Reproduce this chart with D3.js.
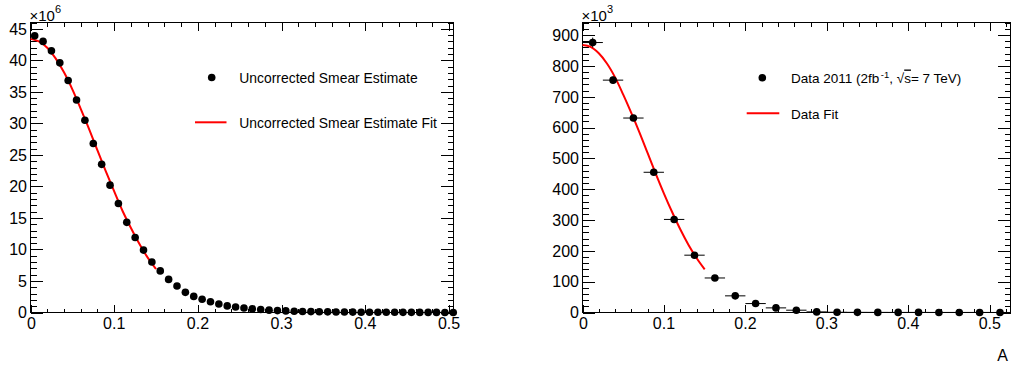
<!DOCTYPE html>
<html><head><meta charset="utf-8">
<script src="https://cdn.jsdelivr.net/npm/d3@7"></script>
<style>
html,body{margin:0;padding:0;background:#fff;}
svg{display:block;font-family:"Liberation Sans",Arial,Helvetica,sans-serif;}
</style></head>
<body>
<svg id="c" width="1014" height="367"></svg>
<script>
// ---------------- DATA ----------------
// Left panel: Uncorrected Smear Estimate (x10^6), bin centres of width 0.01
const leftX = [0.005,0.015,0.025,0.035,0.045,0.055,0.065,0.075,0.085,0.095,
  0.105,0.115,0.125,0.135,0.145,0.155,0.165,0.175,0.185,0.195,
  0.205,0.215,0.225,0.235,0.245,0.255,0.265,0.275,0.285,0.295,
  0.305,0.315,0.325,0.335,0.345,0.355,0.365,0.375,0.385,0.395,
  0.405,0.415,0.425,0.435,0.445,0.455,0.465,0.475,0.485,0.495,0.505];
const leftY = [43.9,43.0,41.5,39.6,36.8,33.7,30.5,26.8,23.5,20.2,
  17.3,14.3,11.9,9.9,8.0,6.6,5.25,4.2,3.2,2.55,
  2.1,1.7,1.35,1.05,0.87,0.72,0.57,0.47,0.37,0.3,
  0.25,0.2,0.17,0.14,0.12,0.1,0.085,0.07,0.06,0.05,
  0.045,0.04,0.035,0.03,0.025,0.02,0.018,0.015,0.012,0.01,0.008];
const leftFitX = [0,0.01,0.02,0.03,0.04,0.05,0.06,0.07,0.08,0.09,0.10,0.11,0.12,0.13,0.14,0.15];
const leftFitY = [43.4,43.0,42.0,40.3,38.1,35.4,32.3,29.1,25.7,22.4,19.2,16.1,13.4,10.9,8.7,6.9];
const leftLegend = ["Uncorrected Smear Estimate","Uncorrected Smear Estimate Fit"];
const leftYTicks = [0,5,10,15,20,25,30,35,40,45];

// Right panel: Data 2011 (x10^3), bin centres of width 0.025
const rightX = [0.0125,0.0375,0.0625,0.0875,0.1125,0.1375,0.1625,0.1875,0.2125,0.2375,
  0.2625,0.2875,0.3125,0.3375,0.3625,0.3875,0.4125,0.4375,0.4625,0.4875,0.5125];
const rightY = [876,754,631,455,302,186,112,54,29,15,
  7.5,2,0.8,0.5,0.4,0.3,0.3,0.2,0.2,0.2,0.1];
const rightYErr = [16,12,10,8,6,5,4,3,2,2,1,1,0.5,0.5,0.5,0.5,0.5,0.5,0.5,0.5,0.5];
const rightXHalfWidth = 0.0125;
const rightFitX = [0,0.01,0.02,0.03,0.04,0.05,0.06,0.07,0.08,0.09,0.10,0.11,0.12,0.13,0.14,0.15];
const rightFitY = [868,862,841,808,763,707,647,584,517,450,386,326,270,220,177,140];
const rightYTicks = [0,100,200,300,400,500,600,700,800,900];

const xTicks = [0,0.1,0.2,0.3,0.4,0.5];
const xTickLabels = ["0","0.1","0.2","0.3","0.4","0.5"];
const xAxisTitle = "A";

// ---------------- DRAW ----------------
const svg = d3.select("#c");
const FONT = 16;

function panel(cfg){
  const g = svg.append("g");
  const x = d3.scaleLinear().domain(cfg.xDomain).range([cfg.left, cfg.right]);
  const y = d3.scaleLinear().domain(cfg.yDomain).range([cfg.bottom, cfg.top]);

  const xMinor = d3.range(0, cfg.xDomain[1] + 1e-9, 0.02);
  const yMinor = d3.range(0, cfg.yDomain[1] + 1e-9, cfg.yMinorStep);
  const tk = g.append("g").attr("stroke","#000").attr("stroke-width",1).attr("shape-rendering","crispEdges");
  xMinor.forEach(v => {
    const major = xTicks.some(t => Math.abs(t - v) < 1e-6);
    const L = major ? 8 : 4;
    const px = Math.round(x(v)) + 0.5;
    tk.append("line").attr("x1",px).attr("x2",px).attr("y1",cfg.bottom).attr("y2",cfg.bottom - L);
    tk.append("line").attr("x1",px).attr("x2",px).attr("y1",cfg.top).attr("y2",cfg.top + L);
  });
  yMinor.forEach(v => {
    const major = cfg.yTicks.some(t => Math.abs(t - v) < 1e-6);
    const L = major ? 12.5 : 6;
    const py = Math.round(y(v)) + 0.5;
    tk.append("line").attr("y1",py).attr("y2",py).attr("x1",cfg.left).attr("x2",cfg.left + L);
    tk.append("line").attr("y1",py).attr("y2",py).attr("x1",cfg.right).attr("x2",cfg.right - L);
  });
  g.append("rect").attr("x",cfg.left).attr("y",cfg.top)
    .attr("width",cfg.right - cfg.left).attr("height",cfg.bottom - cfg.top)
    .attr("fill","none").attr("stroke","#000").attr("stroke-width",1).attr("shape-rendering","crispEdges");

  g.selectAll(".xl").data(xTicks).join("text")
    .attr("x", d => x(d) + (d === 0 ? 1 : 0)).attr("y", cfg.bottom + 16)
    .attr("text-anchor","middle").attr("font-size",FONT).attr("fill","#000")
    .text((d,i) => xTickLabels[i]);
  g.selectAll(".yl").data(cfg.yTicks).join("text")
    .attr("x", cfg.left - 3.5).attr("y", d => y(d)).attr("dy","0.36em")
    .attr("text-anchor","end").attr("font-size",FONT).attr("fill","#000")
    .text(d => d);
  const ex = g.append("text").attr("x", cfg.left - 1).attr("y", cfg.top - 2)
    .attr("font-size", 15).attr("fill","#000");
  ex.append("tspan").text("\u00d710");
  ex.append("tspan").attr("dy",-8).attr("font-size",11).text(cfg.exponent);
  return {g,x,y};
}

// Left
const L = panel({left:30.5, right:453.5, top:22.5, bottom:312.5,
  xDomain:[0,0.5053], yDomain:[0,46], yTicks:leftYTicks, yMinorStep:1, exponent:"6"});
const lineGen = (p) => d3.line().x(d => p.x(d[0])).y(d => p.y(d[1])).curve(d3.curveCatmullRom);
L.g.append("path").datum(leftFitX.map((v,i) => [v, leftFitY[i]]))
  .attr("d", lineGen(L)).attr("fill","none").attr("stroke","#ff0000").attr("stroke-width",2);
L.g.selectAll(".pt").data(leftX).join("circle")
  .attr("cx", d => L.x(d)).attr("cy", (d,i) => L.y(leftY[i])).attr("r",3.8).attr("fill","#000");

// Left legend
L.g.append("circle").attr("cx",211.7).attr("cy",77.5).attr("r",3.8).attr("fill","#000");
L.g.append("text").attr("x",239.3).attr("y",82.5).attr("font-size",13.9).text(leftLegend[0]);
L.g.append("line").attr("x1",195).attr("x2",226.5).attr("y1",122.3).attr("y2",122.3)
  .attr("stroke","#ff0000").attr("stroke-width",2);
L.g.append("text").attr("x",239.3).attr("y",127.5).attr("font-size",13.9).text(leftLegend[1]);

// Right
const R = panel({left:582.5, right:1010.5, top:22.5, bottom:312.5,
  xDomain:[0,0.5254], yDomain:[0,941], yTicks:rightYTicks, yMinorStep:20, exponent:"3"});
R.g.append("path").datum(rightFitX.map((v,i) => [v, rightFitY[i]]))
  .attr("d", lineGen(R)).attr("fill","none").attr("stroke","#ff0000").attr("stroke-width",2);
const eb = R.g.append("g").attr("stroke","#000").attr("stroke-width",1);
rightX.forEach((d,i) => {
  eb.append("line").attr("x1",R.x(d - rightXHalfWidth)).attr("x2",R.x(d + rightXHalfWidth))
    .attr("y1",R.y(rightY[i])).attr("y2",R.y(rightY[i]));
  eb.append("line").attr("x1",R.x(d)).attr("x2",R.x(d))
    .attr("y1",R.y(rightY[i] - rightYErr[i])).attr("y2",R.y(rightY[i] + rightYErr[i]));
});
R.g.selectAll(".pt").data(rightX).join("circle")
  .attr("cx", d => R.x(d)).attr("cy", (d,i) => R.y(rightY[i])).attr("r",3.8).attr("fill","#000");

// Right legend
R.g.append("circle").attr("cx",762.3).attr("cy",77.7).attr("r",3.8).attr("fill","#000");
const t1 = R.g.append("text").attr("x",791).attr("y",82.5).attr("font-size",13.5);
t1.append("tspan").text("Data 2011 (2fb");
t1.append("tspan").attr("dy",-5).attr("dx",1.5).attr("font-size",9.5).text("-1");
t1.append("tspan").attr("dy",5).text(", ");
t1.append("tspan").text("\u221a");
t1.append("tspan").attr("style","text-decoration:overline").text("s");
t1.append("tspan").text("= 7 TeV)");
R.g.append("line").attr("x1",746.7).attr("x2",779.3).attr("y1",113.3).attr("y2",113.3)
  .attr("stroke","#ff0000").attr("stroke-width",2);
R.g.append("text").attr("x",791).attr("y",118.5).attr("font-size",13.5).text("Data Fit");

svg.append("text").attr("x",1008).attr("y",361).attr("text-anchor","end")
  .attr("font-size",16).text(xAxisTitle);
</script>
</body></html>
